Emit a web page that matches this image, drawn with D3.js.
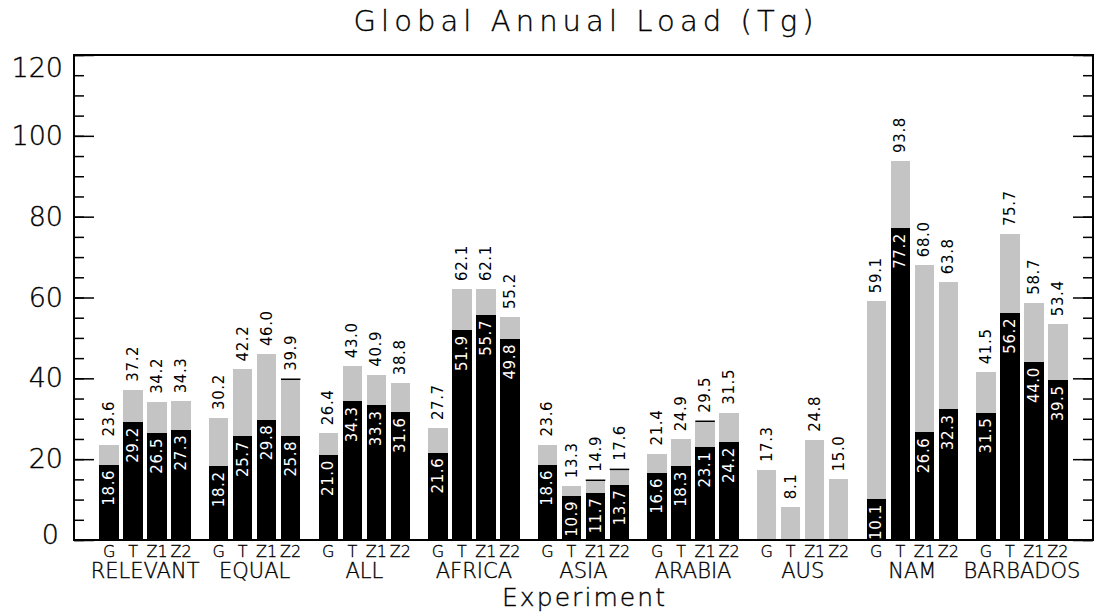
<!DOCTYPE html>
<html>
<head>
<meta charset="utf-8">
<script src="https://cdn.jsdelivr.net/npm/d3@7"></script>
<style>
  html, body { margin: 0; padding: 0; background: #fff; }
  svg { display: block; }
  text { font-family: "DejaVu Sans", "Liberation Sans", sans-serif; font-weight: 200; fill: #000; }
  text.thin { stroke: #000; stroke-width: 0.35px; }
  text.val { font-weight: 400; }
</style>
</head>
<body>
<svg id="chart" width="1094" height="612"></svg>
<script>
// ---- data ----
const groups = ["RELEVANT", "EQUAL", "ALL", "AFRICA", "ASIA", "ARABIA", "AUS", "NAM", "BARBADOS"];
const experiments = ["G", "T", "Z1", "Z2"];
// total load (grey bars, labels above)
const totalG  = [23.6, 30.2, 26.4, 27.7, 23.6, 21.4, 17.3, 59.1, 41.5];
const totalT  = [37.2, 42.2, 43.0, 62.1, 13.3, 24.9,  8.1, 93.8, 75.7];
const totalZ1 = [34.2, 46.0, 40.9, 62.1, 14.9, 29.5, 24.8, 68.0, 58.7];
const totalZ2 = [34.3, 39.9, 38.8, 55.2, 17.6, 31.5, 15.0, 63.8, 53.4];
// inner portion (black bars, labels inside); AUS has none
const innerG  = [18.6, 18.2, 21.0, 21.6, 18.6, 16.6, null, 10.1, 31.5];
const innerT  = [29.2, 25.7, 34.3, 51.9, 10.9, 18.3, null, 77.2, 56.2];
const innerZ1 = [26.5, 29.8, 33.3, 55.7, 11.7, 23.1, null, 26.6, 44.0];
const innerZ2 = [27.3, 25.8, 31.6, 49.8, 13.7, 24.2, null, 32.3, 39.5];
// bars whose grey top carries a thin black cap line
const capLines = [["EQUAL", "Z2"], ["ASIA", "Z1"], ["ASIA", "Z2"], ["ARABIA", "Z1"]];
const yTicks = [0, 20, 40, 60, 80, 100, 120];
const title = "Global Annual Load (Tg)";
const xTitle = "Experiment";

const totals = { G: totalG, T: totalT, Z1: totalZ1, Z2: totalZ2 };
const inners = { G: innerG, T: innerT, Z1: innerZ1, Z2: innerZ2 };
const rows = [];
groups.forEach((g, i) => experiments.forEach(e => {
  rows.push({ group: g, exp: e, total: totals[e][i], inner: inners[e][i] });
}));

// ---- layout ----
const svg = d3.select("#chart");
const L = 74, R = 1093, T = 55, B = 540;
const grey = "#c4c4c4";

const xGroup = d3.scaleBand().domain(groups).range([L, R])
  .paddingInner(0.1241).paddingOuter(0.2107);
const xBar = d3.scaleBand().domain(experiments).range([0, xGroup.bandwidth()])
  .paddingInner(0.1875).paddingOuter(0.09375);
const y = d3.scaleLinear().domain([0, 120]).range([B, T]);
const bx = d => xGroup(d.group) + xBar(d.exp);
const bc = d => bx(d) + xBar.bandwidth() / 2;
const fmt = d3.format(".1f");

// grey total bars
svg.append("g").selectAll("rect").data(rows).join("rect")
  .attr("x", bx).attr("width", xBar.bandwidth())
  .attr("y", d => y(d.total)).attr("height", d => y(0) - y(d.total))
  .attr("fill", grey).attr("shape-rendering", "crispEdges");

// black inner bars
const innerRows = rows.filter(d => d.inner != null);
svg.append("g").selectAll("rect").data(innerRows).join("rect")
  .attr("x", bx).attr("width", xBar.bandwidth())
  .attr("y", d => y(d.inner)).attr("height", d => y(0) - y(d.inner))
  .attr("fill", "#000").attr("shape-rendering", "crispEdges");

// cap lines
const capRows = rows.filter(d => capLines.some(c => c[0] === d.group && c[1] === d.exp));
svg.append("g").selectAll("line").data(capRows).join("line")
  .attr("x1", bx).attr("x2", d => bx(d) + xBar.bandwidth())
  .attr("y1", d => y(d.total) + 0.5).attr("y2", d => y(d.total) + 0.5)
  .attr("stroke", "#000").attr("stroke-width", 1.5);

// value labels above grey bars
svg.append("g").selectAll("text").data(rows).join("text").attr("class", "val")
  .attr("transform", d => `translate(${bc(d)},${y(d.total) - 8}) rotate(-90)`)
  .attr("text-anchor", "start").attr("dominant-baseline", "central")
  .style("font-size", "15px").style("letter-spacing", "0.6px")
  .text(d => fmt(d.total));

// value labels inside black bars
svg.append("g").selectAll("text").data(innerRows).join("text").attr("class", "val")
  .attr("transform", d => `translate(${bc(d)},${y(d.inner) + 5}) rotate(-90)`)
  .attr("text-anchor", "end").attr("dominant-baseline", "central")
  .style("font-size", "15px").style("letter-spacing", "0.6px").style("fill", "#fff")
  .text(d => fmt(d.inner));

// ---- axes ----
const yAxisL = svg.append("g").attr("transform", `translate(${L},0)`)
  .call(d3.axisLeft(y).tickValues(yTicks).tickSize(-20).tickPadding(11).tickFormat(d3.format("d")));
svg.append("g").attr("transform", `translate(${L},0)`)
  .call(d3.axisLeft(y).tickValues(d3.range(0, 121, 5)).tickSize(-10).tickFormat(""));
svg.append("g").attr("transform", `translate(${R},0)`)
  .call(d3.axisRight(y).tickValues(yTicks).tickSize(-20).tickFormat(""));
svg.append("g").attr("transform", `translate(${R},0)`)
  .call(d3.axisRight(y).tickValues(d3.range(0, 121, 5)).tickSize(-10).tickFormat(""));
svg.selectAll(".domain").remove();
svg.selectAll(".tick line").attr("stroke", "#000").attr("stroke-width", 1.5);
yAxisL.selectAll("text").attr("class", "thin").style("font-size", "27px").style("font-family", "DejaVu Sans")
  .attr("fill", "#000")
  .attr("transform", d => d === 0 ? "translate(-4,-5)" : d === 120 ? "translate(0,13)" : null);

// frame
svg.append("rect").attr("x", L).attr("y", T).attr("width", R - L).attr("height", B - T)
  .attr("fill", "none").attr("stroke", "#000").attr("stroke-width", 2);

// x labels
svg.append("g").selectAll("text").data(rows).join("text").attr("class", "thin")
  .attr("x", bc).attr("y", 557).attr("text-anchor", "middle")
  .style("font-size", "16px").text(d => d.exp);
svg.append("g").selectAll("text").data(groups).join("text").attr("class", "thin")
  .attr("x", d => xGroup(d) + xGroup.bandwidth() / 2).attr("y", 578)
  .attr("text-anchor", "middle").style("font-size", "21px").text(d => d);
svg.append("text").attr("class", "thin").attr("x", (L + R) / 2).attr("y", 606).attr("text-anchor", "middle")
  .style("font-size", "25px").attr("textLength", 163).attr("lengthAdjust", "spacing").text(xTitle);
svg.append("text").attr("class", "thin").attr("x", (L + R) / 2).attr("y", 31).attr("text-anchor", "middle")
  .style("font-size", "29px").attr("textLength", 460).attr("lengthAdjust", "spacing").text(title);
</script>
</body>
</html>
